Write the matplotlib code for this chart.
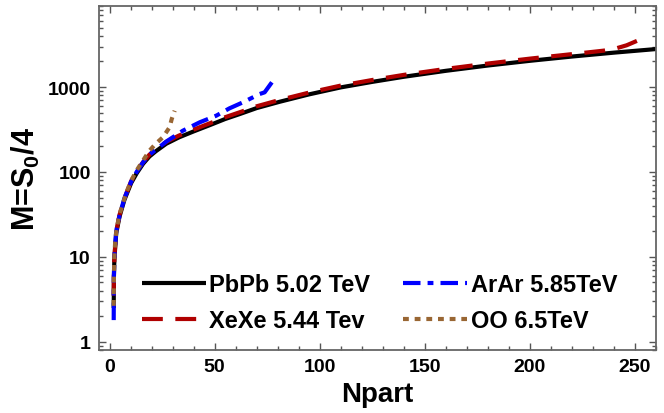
import matplotlib
matplotlib.use("Agg")
import matplotlib.pyplot as plt
from matplotlib.ticker import LogLocator, MultipleLocator, NullFormatter, FixedLocator

plt.rcParams['font.family'] = ['Liberation Sans', 'DejaVu Sans']
plt.rcParams['font.weight'] = 'bold'
plt.rcParams['mathtext.fontset'] = 'custom'
plt.rcParams['mathtext.rm'] = 'Liberation Sans:bold'
plt.rcParams['mathtext.bf'] = 'Liberation Sans:bold'

# ---- data ----
pb_npart = [2.0, 2.05, 2.1, 2.3, 2.7, 3.2, 4.8, 7.1, 10.3, 13, 16, 19, 22, 27, 33, 40,
            47.6, 55, 62, 70, 81, 95, 110, 125, 140, 160, 180, 200, 220, 240, 260]
pb_m = [2.5, 4, 6, 9, 13, 19, 30, 47, 74, 97, 125, 152, 175, 215, 255, 300,
        355, 420, 481, 565, 671, 820, 990, 1150, 1320, 1552, 1792, 2036, 2286, 2541, 2800]

xe_npart = [2.0, 2.05, 2.1, 2.3, 2.7, 3.2, 4.8, 7.1, 10.3, 13, 16, 19, 22, 27, 33, 40,
            47.6, 55, 62, 70, 81, 95, 110, 125, 140, 160, 180, 200, 220, 235, 241, 246, 251]
xe_m = [3.5, 4.5, 6.3, 9.5, 13.6, 20, 31.5, 49, 78, 102, 131, 160, 184, 226, 268, 315,
        373, 441, 505, 593, 705, 861, 1040, 1210, 1390, 1635, 1890, 2160, 2440, 2680, 2850, 3100, 3500]

ar_npart = [2.0, 2.05, 2.1, 2.3, 2.7, 3.2, 4.8, 7.1, 10.3, 13, 16, 19, 23.8, 27, 34.9, 43,
            50.8, 57, 63.5, 71.4, 73.8, 77.8]
ar_m = [1.8, 4, 6, 9.5, 14, 20, 31, 49, 77, 101, 130, 160, 197, 228, 306, 385,
        460, 560, 661, 827, 866, 1187]

oo_npart = [2.0, 2.05, 2.1, 2.3, 2.7, 3.2, 4.5, 6.3, 8, 10.3, 13, 15.9, 19, 22, 25.4, 28.6, 29.6, 31]
oo_m = [2.65, 4, 6, 10, 15, 19.7, 30, 42, 57, 79, 105, 136, 178, 215, 256, 336, 420, 526]

labels = ["PbPb 5.02 TeV", "XeXe 5.44 Tev", "ArAr 5.85TeV", "OO 6.5TeV"]
x_ticks = [0, 50, 100, 150, 200, 250]
y_ticks = [1, 10, 100, 1000]

# ---- figure ----
fig = plt.figure(figsize=(6.64, 4.14), dpi=100)
ax = fig.add_axes([99/664, 1 - 351/414, (656-99)/664, (351-7)/414])

lw = 3.0
l1, = ax.plot(pb_npart, pb_m, color='black', lw=lw, solid_capstyle='butt')
l2, = ax.plot(xe_npart, xe_m, color='#B00000', lw=lw, dashes=(5, 3), dash_capstyle='butt')
l3, = ax.plot(ar_npart, ar_m, color='#0000FF', lw=lw, dashes=(4.2, 1.7, 1.4, 1.7), dash_capstyle='butt')
l4, = ax.plot(oo_npart, oo_m, color='#996633', lw=lw, dashes=(1.4, 1.4), dash_capstyle='butt')

ax.set_yscale('log')
ax.set_xlim(-5, 260)
ax.set_ylim(0.8, 9000)

ax.xaxis.set_major_locator(FixedLocator(x_ticks))
ax.xaxis.set_minor_locator(MultipleLocator(10))
ax.yaxis.set_major_locator(FixedLocator(y_ticks))
ax.yaxis.set_minor_locator(LogLocator(base=10, subs=range(2, 10)))
ax.yaxis.set_minor_formatter(NullFormatter())
ax.set_yticklabels([str(v) for v in y_ticks])
ax.set_xticklabels([str(v) for v in x_ticks])

ax.tick_params(which='both', direction='in', top=True, right=True, colors='#555555',
               labelcolor='black', width=1.0)
ax.tick_params(which='major', length=5, labelsize=14, pad=6)
ax.tick_params(which='minor', length=3)
for lab in ax.get_xticklabels() + ax.get_yticklabels():
    lab.set_fontweight('bold')
for sp in ax.spines.values():
    sp.set_color('#666666')
    sp.set_linewidth(1.3)

ax.set_xlabel('Npart', fontsize=20, fontweight='bold', labelpad=4)
ax.set_ylabel(r'M=S$_0$/4', fontsize=22, fontweight='bold', labelpad=4)

leg = ax.legend([l1, l2, l3, l4], labels, ncol=2, frameon=False,
                loc='upper left', bbox_to_anchor=(0.077, 0.224),
                prop={'size': 17, 'weight': 'bold'},
                handlelength=2.7, handletextpad=0.15, columnspacing=1.4,
                labelspacing=0.55, borderpad=0, borderaxespad=0)

fig.savefig('out.png', dpi=100)
